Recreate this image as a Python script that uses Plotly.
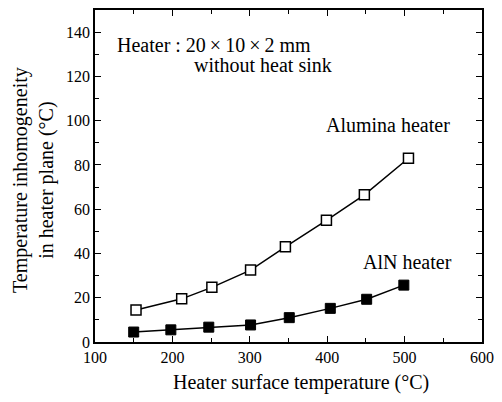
import plotly.graph_objects as go

alumina_x = [153, 212, 251, 301, 346, 399, 448, 505]
alumina_y = [14.5, 19.5, 24.7, 32.5, 43, 55, 66.5, 83]
aln_x = [150, 198, 247, 301, 351, 404, 451, 499]
aln_y = [4.5, 5.5, 6.7, 7.7, 11, 15.2, 19.3, 25.7]

x_ticks = [100, 200, 300, 400, 500, 600]
y_ticks = [0, 20, 40, 60, 80, 100, 120, 140]

FONT = "Liberation Serif, Times New Roman, DejaVu Serif, serif"

# page body has an 8px default margin, so the figure is sized to fit the window
W, H = 494, 394
ML, MR, MT, MB = 87, 20, 2, 60
PW, PH = W - ML - MR, H - MT - MB
OFF = 8


def px_to_paper(px, py):
    return ((px - OFF) - ML) / PW, (H - MB - (py - OFF)) / PH


fig = go.Figure()
fig.add_trace(go.Scatter(
    x=alumina_x, y=alumina_y, mode="lines+markers", name="Alumina heater",
    line=dict(color="black", width=1.5),
    marker=dict(symbol="square", size=10, color="white", line=dict(color="black", width=1.5)),
))
fig.add_trace(go.Scatter(
    x=aln_x, y=aln_y, mode="lines+markers", name="AlN heater",
    line=dict(color="black", width=1.5),
    marker=dict(symbol="square", size=10, color="black", line=dict(color="black", width=1)),
))

axis_common = dict(
    showline=True, linecolor="black", linewidth=1.5, mirror="ticks",
    ticks="inside", ticklen=6, tickwidth=1.2, tickcolor="black",
    showgrid=False, zeroline=False, automargin=False,
    tickfont=dict(family=FONT, size=16, color="black"),
)

fig.update_xaxes(
    range=[100, 600], tickvals=x_ticks, ticktext=[str(v) for v in x_ticks],
    minor=dict(ticks="inside", ticklen=4, dtick=50, tick0=100, tickcolor="black", tickwidth=1.2, showgrid=False),
    **axis_common,
)
fig.update_yaxes(
    range=[0, 150], tickvals=y_ticks, ticktext=[str(v) for v in y_ticks],
    minor=dict(ticks="inside", ticklen=4, dtick=10, tick0=0, tickcolor="black", tickwidth=1.2, showgrid=False),
    **axis_common,
)

TXT = dict(family=FONT, size=20, color="black")

xt = px_to_paper(301, 382)
fig.add_annotation(x=xt[0], y=xt[1], xref="paper", yref="paper", text="Heater surface temperature (°C)",
                   showarrow=False, font=TXT, xanchor="center", yanchor="middle")
yt = px_to_paper(34, 180)
fig.add_annotation(x=yt[0], y=yt[1], xref="paper", yref="paper",
                   text="Temperature inhomogeneity<br>in heater plane (°C)",
                   showarrow=False, font=TXT, textangle=-90, xanchor="center", yanchor="middle")

fig.add_annotation(x=126, y=134, xref="x", yref="y", text="Heater : 20\u2009×\u200910\u2009×\u20092 mm", showarrow=False,
                   xanchor="left", font=TXT)
fig.add_annotation(x=225, y=125, xref="x", yref="y", text="without heat sink", showarrow=False,
                   xanchor="left", font=TXT)
fig.add_annotation(x=478, y=98, xref="x", yref="y", text="Alumina heater", showarrow=False,
                   font=TXT)
fig.add_annotation(x=504, y=36, xref="x", yref="y", text="AlN heater", showarrow=False,
                   font=TXT)

fig.update_layout(
    width=W, height=H, showlegend=False,
    paper_bgcolor="white", plot_bgcolor="white",
    margin=dict(l=ML, r=MR, t=MT, b=MB),
    font=dict(family=FONT, color="black"),
)

fig.write_html("out.html")
